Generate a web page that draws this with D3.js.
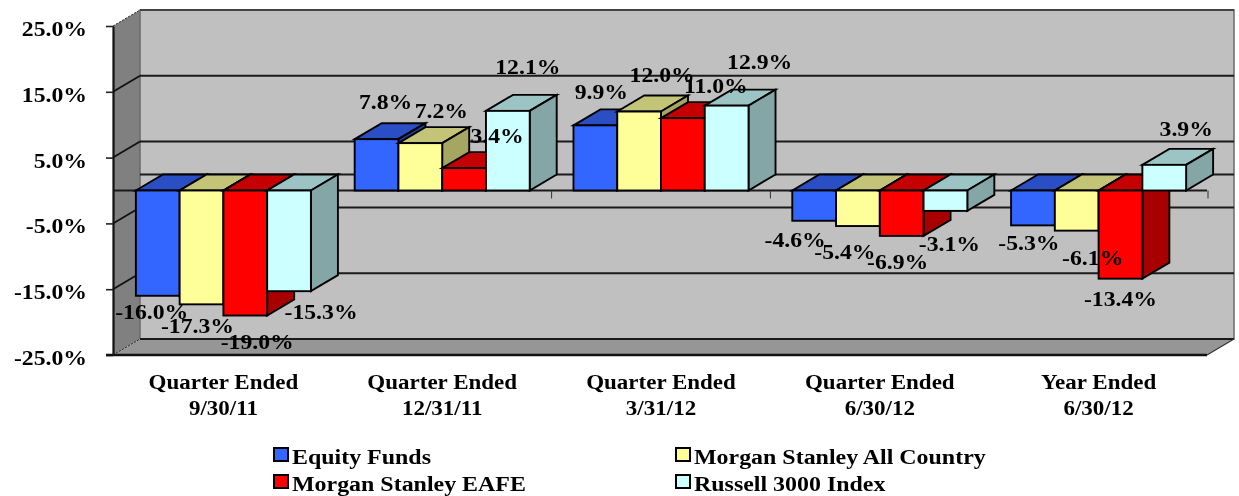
<!DOCTYPE html>
<html><head><meta charset="utf-8">
<script src="https://cdn.jsdelivr.net/npm/d3@7/dist/d3.min.js"></script>
<style>
html,body{margin:0;padding:0;background:#fff;overflow:hidden}
svg{display:block;filter:blur(0.35px)}
text{font-family:"Liberation Serif",serif;font-weight:bold;fill:#000}
</style></head><body><svg id="c" width="1239" height="496"></svg>
<script>
const categories=[["Quarter Ended","9/30/11"],["Quarter Ended","12/31/11"],["Quarter Ended","3/31/12"],["Quarter Ended","6/30/12"],["Year Ended","6/30/12"]];
const seriesNames=["Equity Funds","Morgan Stanley All Country","Morgan Stanley EAFE","Russell 3000 Index"];
const equityFunds=[-16.0,7.8,9.9,-4.6,-5.3];
const allCountry=[-17.3,7.2,12.0,-5.4,-6.1];
const eafe=[-19.0,3.4,11.0,-6.9,-13.4];
const russell=[-15.3,12.1,12.9,-3.1,3.9];
const seriesValues=[equityFunds,allCountry,eafe,russell];
const yTicks=[25,15,5,-5,-15,-25];

// layout and styling, separate from the data
const fills=[
 {front:"#3366ff",top:"#2a4fc4",side:"#22409f"},
 {front:"#ffff99",top:"#c4c478",side:"#a6a663"},
 {front:"#ff0000",top:"#c40000",side:"#a80000"},
 {front:"#ccffff",top:"#9cc4c4",side:"#84a6a6"}];
// pixel nudges [dx from bar centre, dy from bar end] for the overlapping value labels, by series then group
const labelNudges=[
 [[-6,23],[9,-30],[6,-26],[-19,26],[-4,25]],
 [[-4,29],[21,-25],[23,-30],[-13,33],[16,34]],
 [[12,33],[33,-25],[33,-25],[-4,33],[0,27]],
 [[32,28],[20,-37],[33,-37],[4,40],[22,-29]]];
const W=1239,H=496,dx=27,dy=-16,sx=1.15,fsLabel=21,sxLabel=1.13,fsLegend=21,sxLegend=1.14;
const svg=d3.select("#c");
const y=d3.scaleLinear().domain([-25,25]).range([355,26]);
const x0=d3.scaleBand().domain(d3.range(categories.length)).range([114,1208]);
const x1=d3.scaleBand().domain(d3.range(seriesNames.length)).range([x0.step()*0.1,x0.step()*0.9]);
const xL=113,xR=1207,wallT=y(25),wallB=y(-25);
const poly=(pts,f,s,w)=>svg.append("path").attr("d",d3.line()(pts)+"Z").attr("fill",f).attr("stroke",s||"none").attr("stroke-width",w||0);

// walls and floor
poly([[xL,wallT],[xL+dx,wallT+dy],[xL+dx,wallB+dy],[xL,wallB]],"#808080");
svg.append("rect").attr("x",xL+dx).attr("y",wallT+dy).attr("width",xR-xL).attr("height",wallB-wallT).attr("fill","#c0c0c0").attr("stroke","#6a6a6a").attr("stroke-width",1.5);
poly([[xL,wallB],[xL+dx,wallB+dy],[xR+dx,wallB+dy],[xR,wallB]],"#969696");

// gridlines
const grid=[25,15,5,0,-5,-15,-25];
grid.forEach(v=>{
 const yy=y(v);
 svg.append("line").attr("x1",xL+dx).attr("x2",xR+dx).attr("y1",yy+dy).attr("y2",yy+dy).attr("stroke",(v===25)?"#444":"#1a1a1a").attr("stroke-width",2);
 if(v!==0&&Math.abs(v)!==25) svg.append("line").attr("x1",xL).attr("x2",xL+dx).attr("y1",yy).attr("y2",yy+dy).attr("stroke","#111").attr("stroke-width",1.8);
 if(Math.abs(v)===25) svg.append("line").attr("x1",xL).attr("x2",xL+dx).attr("y1",yy).attr("y2",yy+dy).attr("stroke","#222").attr("stroke-width",1).attr("stroke-dasharray","2 1.5");
});
// zero plane line with boundary ticks
svg.append("line").attr("x1",xL).attr("x2",xR).attr("y1",y(0)).attr("y2",y(0)).attr("stroke","#1a1a1a").attr("stroke-width",2);
d3.range(1,categories.length+1).forEach(i=>{
 const xx=x0.range()[0]+i*x0.step();
 svg.append("line").attr("x1",xx).attr("x2",xx).attr("y1",y(0)).attr("y2",y(0)+8).attr("stroke","#333").attr("stroke-width",1);
});

// y axis
const ax=svg.append("g").attr("transform",`translate(${xL},0)`).call(
 d3.axisLeft(y).tickValues(yTicks).tickSize(7).tickSizeOuter(0).tickFormat(d=>d.toFixed(1)+"%"));
ax.select(".domain").attr("stroke","#111").attr("stroke-width",2.2);
ax.selectAll("line").attr("stroke","#222").attr("stroke-width",1.6);
ax.selectAll("text").attr("x",-26/sxLabel).attr("dy",null).attr("y",9.5).attr("font-size",fsLabel).attr("transform",`scale(${sxLabel},1)`).style("font-family",'"Liberation Serif",serif').style("font-weight","bold").attr("fill","#000").text(d=>(d<0?"-":"")+Math.abs(d).toFixed(1)+"%");
// floor front edge
svg.append("line").attr("x1",xL-7).attr("x2",xR).attr("y1",wallB).attr("y2",wallB).attr("stroke","#111").attr("stroke-width",2.4);
svg.append("line").attr("x1",xR).attr("x2",xR+dx).attr("y1",wallB).attr("y2",wallB+dy).attr("stroke","#333").attr("stroke-width",1.2);

// bars
categories.forEach((c,g)=>{
 seriesNames.forEach((s,i)=>{
  const v=seriesValues[i][g];
  const l=x0(g)+x1(i),r=l+x1.bandwidth();
  const t=y(Math.max(v,0)),b=y(Math.min(v,0));
  const gb=svg.append("g").attr("stroke","#000").attr("stroke-width",1.9).attr("stroke-linejoin","miter");
  gb.append("path").attr("d",d3.line()([[l,t],[l+dx,t+dy],[r+dx,t+dy],[r,t]])+"Z").attr("fill",fills[i].top);
  gb.append("path").attr("d",d3.line()([[r,t],[r+dx,t+dy],[r+dx,b+dy],[r,b]])+"Z").attr("fill",fills[i].side);
  gb.append("rect").attr("x",l).attr("y",t).attr("width",r-l).attr("height",b-t).attr("fill",fills[i].front);
 });
});

// text helper
const txt=(str,cx,base,size,anchor,sc)=>svg.append("text").attr("text-anchor",anchor||"middle").attr("font-size",size).attr("transform",`translate(${cx},${base}) scale(${sc},1)`).text(str);

// value labels
categories.forEach((c,g)=>{
 seriesNames.forEach((s,i)=>{
  const v=seriesValues[i][g];
  const cx=x0(g)+x1(i)+x1.bandwidth()/2, end=y(v), n=labelNudges[i][g];
  txt(v.toFixed(1)+"%",cx+n[0],end+n[1],fsLabel,"middle",sxLabel);
 });
});

// category labels
categories.forEach((c,g)=>{
 const cx=x0(g)+x0.bandwidth()/2;
 txt(c[0],cx,389,20,"middle",sx);
 txt(c[1],cx,415,20,"middle",sx);
});

// legend
const legCols=[274,676],legRows=[448,475];
seriesNames.forEach((s,i)=>{
 const lx=legCols[i%2],ly=legRows[Math.floor(i/2)];
 svg.append("rect").attr("x",lx).attr("y",ly).attr("width",14).attr("height",13).attr("fill",fills[i].front).attr("stroke","#000").attr("stroke-width",2);
 txt(s,lx+18,ly+16,fsLegend,"start",sxLegend);
});
</script></body></html>
